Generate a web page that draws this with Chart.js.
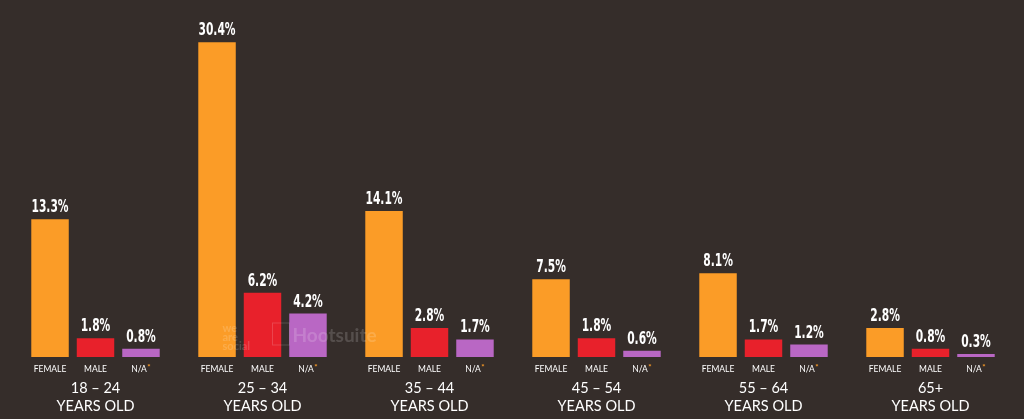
<!DOCTYPE html>
<html>
<head>
<meta charset="utf-8">
<script src="https://cdn.jsdelivr.net/npm/chart.js@4"></script>
<style>
  html, body { margin: 0; padding: 0; background: #352d2a; }
  #wrap { width: 1024px; height: 419px; }
</style>
</head>
<body>
<div id="wrap"><canvas id="c"></canvas></div>
<script>
const ageGroups = [["18 – 24", "YEARS OLD"], ["25 – 34", "YEARS OLD"], ["35 – 44", "YEARS OLD"],
                   ["45 – 54", "YEARS OLD"], ["55 – 64", "YEARS OLD"], ["65+", "YEARS OLD"]];
const genders = ["FEMALE", "MALE", "N/A"];
const female = [13.3, 30.4, 14.1, 7.5, 8.1, 2.8];
const male = [1.8, 6.2, 2.8, 1.8, 1.7, 0.8];
const notAvailable = [0.8, 4.2, 1.7, 0.6, 1.2, 0.3];

const colors = ["#fb9c27", "#e8212b", "#b967c4"];

const bgPlugin = {
  id: "bg",
  beforeDraw(chart) {
    const { ctx, width, height } = chart;
    ctx.save();
    ctx.fillStyle = "#352d2a";
    ctx.fillRect(0, 0, width, height);
    ctx.restore();
  }
};

const labelPlugin = {
  id: "labels",
  afterDatasetsDraw(chart) {
    const { ctx, chartArea, scales } = chart;
    ctx.save();
    ctx.textAlign = "center";

    // value labels over each bar (squeezed to look like a condensed face)
    ctx.fillStyle = "#ffffff";
    ctx.font = "bold 18px 'DejaVu Sans Condensed', 'DejaVu Sans', sans-serif";
    ctx.textBaseline = "alphabetic";
    const squeeze = 0.66;
    chart.data.datasets.forEach((ds, d) => {
      chart.getDatasetMeta(d).data.forEach((bar, i) => {
        ctx.save();
        ctx.translate(bar.x, bar.y - 7);
        ctx.scale(squeeze, 1);
        ctx.fillText(ds.data[i].toFixed(1) + "%", 0, 0);
        ctx.restore();
      });
    });

    // gender labels under each bar
    ctx.textBaseline = "middle";
    chart.data.datasets.forEach((ds, d) => {
      chart.getDatasetMeta(d).data.forEach((bar) => {
        const y = chartArea.bottom + 12;
        ctx.font = "8.5px Lato, sans-serif";
        ctx.fillStyle = "#ffffff";
        if (d === 2) {
          const w = ctx.measureText("N/A").width;
          ctx.fillText("N/A", bar.x - 2, y);
          ctx.fillStyle = colors[0];
          ctx.font = "bold 8px Lato, sans-serif";
          ctx.textAlign = "left";
          ctx.fillText("*", bar.x - 2 + w / 2 + 0.5, y - 2);
          ctx.textAlign = "center";
        } else {
          ctx.fillText(genders[d], bar.x, y);
        }
      });
    });

    // age group labels
    ctx.fillStyle = "#ffffff";
    ctx.font = "14.5px Lato, sans-serif";
    chart.data.labels.forEach((lab, i) => {
      const x = scales.x.getPixelForValue(i);
      ctx.fillText(lab[0], x, chartArea.bottom + 31);
      ctx.fillText(lab[1], x, chartArea.bottom + 49);
    });

    // faint watermark
    ctx.globalAlpha = 0.16;
    ctx.fillStyle = "#ffffff";
    ctx.font = "bold 19px Lato, sans-serif";
    ctx.textAlign = "left";
    const cx = scales.x.getPixelForValue(1);
    ctx.fillText("Hootsuite", cx + 30, chartArea.bottom - 21);
    ctx.strokeStyle = "#ffffff";
    ctx.lineWidth = 1;
    ctx.strokeRect(cx + 10, chartArea.bottom - 34, 17, 22);
    ctx.font = "bold 11px Lato, sans-serif";
    const wx = cx - 40;
    ctx.fillText("we", wx, chartArea.bottom - 29);
    ctx.fillText("are", wx, chartArea.bottom - 20);
    ctx.fillText("social", wx, chartArea.bottom - 11);
    ctx.restore();
  }
};

new Chart(document.getElementById("c"), {
  type: "bar",
  data: {
    labels: ageGroups,
    datasets: [
      { label: genders[0], data: female, backgroundColor: colors[0] },
      { label: genders[1], data: male, backgroundColor: colors[1] },
      { label: genders[2], data: notAvailable, backgroundColor: colors[2] }
    ]
  },
  options: {
    responsive: true,
    maintainAspectRatio: false,
    animation: false,
    categoryPercentage: 0.817,
    barPercentage: 0.824,
    layout: { padding: { left: 12, right: 10, top: 36, bottom: 62 } },
    scales: {
      x: { display: false },
      y: { display: false, min: 0, max: 31 }
    },
    plugins: {
      legend: { display: false },
      tooltip: { enabled: false }
    }
  },
  plugins: [bgPlugin, labelPlugin]
});
</script>
</body>
</html>
